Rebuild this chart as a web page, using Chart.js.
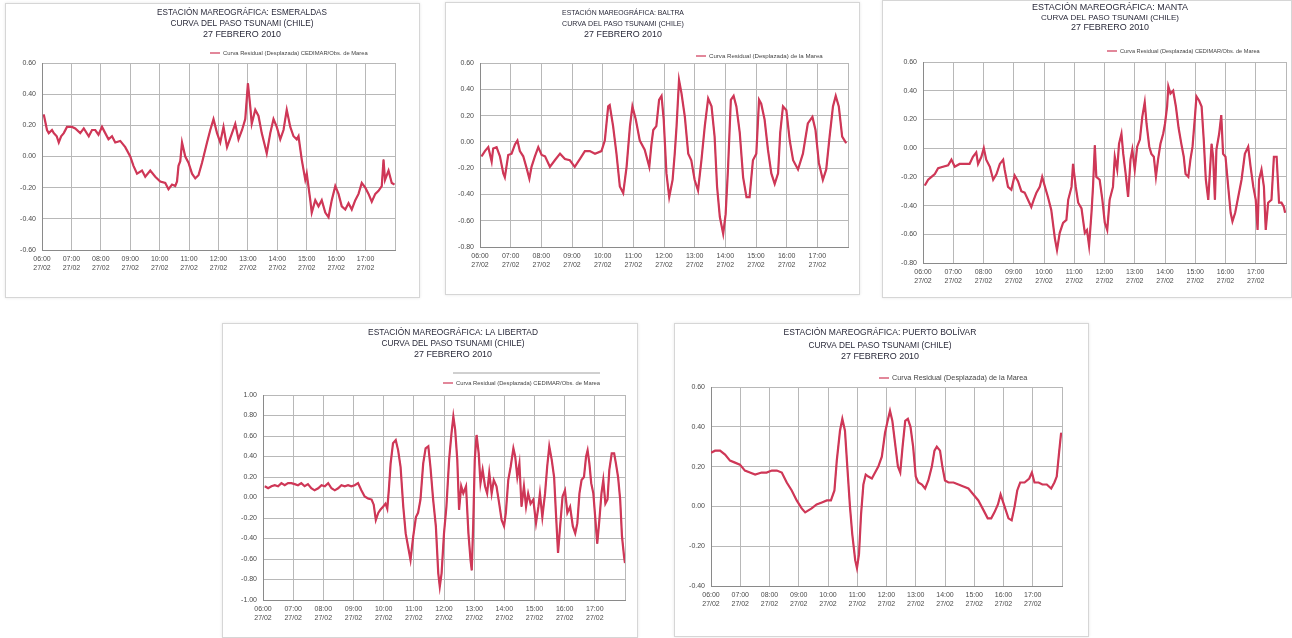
<!DOCTYPE html>
<html lang="es">
<head>
<meta charset="UTF-8">
<title>Curvas del paso del tsunami - 27 febrero 2010</title>
<script src="https://cdn.jsdelivr.net/npm/chart.js"></script>
<style>
  body { margin: 0; background: #fff; width: 1292px; height: 638px; position: relative; overflow: hidden; }
  .panel { position: absolute; background: #fff; border: 1px solid #d6d6d6; box-shadow: 0 0 3px rgba(0,0,0,0.10); box-sizing: border-box; }
  .panel canvas { display: block; }
</style>
</head>
<body>
<div class="panel" style="left:5px;top:3px;width:415px;height:295px"><canvas id="c1"></canvas></div>
<div class="panel" style="left:445px;top:2px;width:415px;height:293px"><canvas id="c2"></canvas></div>
<div class="panel" style="left:882px;top:0px;width:410px;height:298px"><canvas id="c3"></canvas></div>
<div class="panel" style="left:222px;top:323px;width:416px;height:315px"><canvas id="c4"></canvas></div>
<div class="panel" style="left:674px;top:323px;width:415px;height:314px"><canvas id="c5"></canvas></div>

<script>
// tick labels (hora local / fecha)
const hourTicks = ['06:00','07:00','08:00','09:00','10:00','11:00','12:00','13:00','14:00','15:00','16:00','17:00'];
const dateTick = '27/02';

// readings: [hours since 06:00, residual level in m]
const esmeraldas = [[0.06,0.27],[0.17,0.17],[0.23,0.15],[0.34,0.17],[0.40,0.15],[0.50,0.13],[0.57,0.09],[0.65,0.13],[0.74,0.15],[0.85,0.19],
  [1.02,0.19],[1.13,0.18],[1.30,0.15],[1.42,0.18],[1.59,0.13],[1.70,0.17],[1.81,0.17],[1.92,0.14],[2.04,0.19],[2.15,0.15],
  [2.26,0.11],[2.38,0.13],[2.49,0.09],[2.66,0.10],[2.83,0.06],[3.00,0.00],[3.11,-0.06],[3.23,-0.11],[3.40,-0.09],[3.51,-0.13],
  [3.68,-0.09],[3.85,-0.13],[4.02,-0.16],[4.19,-0.17],[4.30,-0.21],[4.42,-0.18],[4.53,-0.19],[4.59,-0.16],[4.64,-0.06],[4.70,-0.03],
  [4.76,0.09],[4.87,0.00],[4.98,-0.04],[5.10,-0.11],[5.21,-0.14],[5.32,-0.12],[5.44,-0.04],[5.61,0.09],[5.72,0.17],[5.83,0.24],
  [5.95,0.15],[6.06,0.09],[6.17,0.19],[6.29,0.06],[6.46,0.15],[6.57,0.21],[6.68,0.11],[6.80,0.17],[6.91,0.24],[7.00,0.47],
  [7.08,0.32],[7.13,0.21],[7.25,0.30],[7.36,0.26],[7.47,0.15],[7.59,0.06],[7.64,0.02],[7.76,0.15],[7.87,0.24],[7.98,0.19],
  [8.10,0.11],[8.21,0.17],[8.32,0.30],[8.44,0.19],[8.55,0.13],[8.66,0.11],[8.72,0.13],[8.83,-0.02],[8.95,-0.15],[9.00,-0.11],
  [9.12,-0.28],[9.17,-0.36],[9.29,-0.28],[9.40,-0.32],[9.51,-0.28],[9.63,-0.36],[9.74,-0.39],[9.85,-0.28],[9.97,-0.19],[10.08,-0.24],
  [10.19,-0.32],[10.31,-0.34],[10.42,-0.30],[10.53,-0.34],[10.65,-0.28],[10.76,-0.24],[10.87,-0.17],[10.99,-0.20],[11.10,-0.24],[11.21,-0.29],
  [11.33,-0.24],[11.44,-0.22],[11.55,-0.19],[11.61,-0.02],[11.66,-0.15],[11.78,-0.09],[11.89,-0.17],[11.98,-0.18]];

const baltra = [[0.05,-0.11],[0.16,-0.07],[0.27,-0.04],[0.38,-0.15],[0.43,-0.05],[0.54,-0.04],[0.65,-0.11],[0.76,-0.24],[0.81,-0.27],[0.92,-0.10],
  [1.03,-0.09],[1.14,-0.02],[1.22,0.01],[1.30,-0.07],[1.41,-0.11],[1.52,-0.20],[1.61,-0.28],[1.68,-0.19],[1.79,-0.11],[1.90,-0.04],
  [2.01,-0.10],[2.12,-0.11],[2.28,-0.19],[2.44,-0.14],[2.61,-0.09],[2.77,-0.13],[2.93,-0.14],[3.09,-0.19],[3.26,-0.13],[3.42,-0.07],
  [3.58,-0.07],[3.75,-0.09],[3.96,-0.07],[4.07,0.01],[4.18,0.27],[4.23,0.28],[4.34,0.12],[4.45,-0.09],[4.56,-0.34],[4.67,-0.39],
  [4.78,-0.19],[4.89,0.12],[4.97,0.27],[5.08,0.17],[5.21,0.01],[5.37,-0.06],[5.52,-0.19],[5.59,-0.02],[5.65,0.09],[5.75,0.12],
  [5.84,0.32],[5.92,0.35],[5.99,0.17],[6.08,-0.24],[6.17,-0.42],[6.28,-0.29],[6.35,-0.09],[6.41,0.12],[6.49,0.47],[6.57,0.37],
  [6.68,0.19],[6.79,-0.09],[6.89,-0.14],[7.00,-0.29],[7.11,-0.37],[7.22,-0.14],[7.33,0.12],[7.44,0.33],[7.55,0.27],[7.65,0.04],
  [7.73,-0.34],[7.82,-0.57],[7.93,-0.70],[8.01,-0.55],[8.09,-0.19],[8.18,0.32],[8.27,0.35],[8.36,0.27],[8.47,0.07],[8.58,-0.27],
  [8.69,-0.42],[8.79,-0.42],[8.90,-0.14],[9.01,-0.09],[9.10,0.32],[9.17,0.29],[9.28,0.17],[9.39,-0.06],[9.50,-0.24],[9.61,-0.32],
  [9.72,-0.24],[9.79,0.07],[9.88,0.27],[9.99,0.24],[10.10,0.01],[10.21,-0.14],[10.37,-0.21],[10.53,-0.09],[10.69,0.14],[10.84,0.19],
  [10.94,0.09],[11.05,-0.16],[11.18,-0.29],[11.29,-0.21],[11.40,0.04],[11.51,0.27],[11.60,0.35],[11.70,0.27],[11.81,0.04],[11.94,-0.01]];

const manta = [[0.06,-0.26],[0.17,-0.22],[0.28,-0.20],[0.39,-0.18],[0.50,-0.14],[0.66,-0.13],[0.83,-0.12],[0.94,-0.08],[1.05,-0.13],[1.21,-0.11],
  [1.38,-0.11],[1.54,-0.11],[1.65,-0.06],[1.76,-0.03],[1.82,-0.11],[1.93,-0.06],[2.01,0.00],[2.09,-0.08],[2.21,-0.13],[2.32,-0.22],
  [2.43,-0.18],[2.54,-0.11],[2.65,-0.08],[2.70,-0.15],[2.81,-0.27],[2.92,-0.29],[3.03,-0.19],[3.14,-0.23],[3.25,-0.30],[3.36,-0.31],
  [3.47,-0.36],[3.58,-0.41],[3.66,-0.36],[3.75,-0.31],[3.86,-0.27],[3.94,-0.20],[4.02,-0.26],[4.13,-0.34],[4.24,-0.43],[4.36,-0.63],
  [4.43,-0.71],[4.52,-0.59],[4.63,-0.52],[4.74,-0.50],[4.80,-0.36],[4.91,-0.27],[4.96,-0.11],[5.05,-0.27],[5.13,-0.38],[5.24,-0.42],
  [5.35,-0.59],[5.42,-0.57],[5.49,-0.68],[5.57,-0.45],[5.62,-0.27],[5.68,0.02],[5.73,-0.20],[5.84,-0.22],[5.93,-0.36],[6.01,-0.52],
  [6.09,-0.57],[6.17,-0.36],[6.28,-0.27],[6.34,-0.06],[6.42,-0.15],[6.48,0.03],[6.56,0.10],[6.62,-0.04],[6.70,-0.18],[6.78,-0.34],
  [6.86,-0.08],[6.92,-0.01],[7.00,-0.15],[7.08,0.01],[7.17,0.06],[7.25,0.22],[7.33,0.32],[7.39,0.17],[7.48,0.01],[7.55,-0.04],
  [7.63,-0.06],[7.70,-0.20],[7.77,-0.08],[7.85,0.03],[7.94,0.10],[8.00,0.17],[8.07,0.29],[8.11,0.43],[8.18,0.38],[8.27,0.40],
  [8.36,0.29],[8.45,0.14],[8.54,0.03],[8.62,-0.06],[8.68,-0.18],[8.77,-0.20],[8.84,-0.08],[8.91,0.01],[8.99,0.22],[9.04,0.36],
  [9.13,0.33],[9.21,0.29],[9.28,0.06],[9.35,-0.22],[9.43,-0.36],[9.48,-0.18],[9.54,0.03],[9.59,-0.06],[9.65,-0.36],[9.70,-0.01],
  [9.79,0.10],[9.86,0.23],[9.92,-0.04],[10.00,-0.06],[10.09,-0.27],[10.17,-0.45],[10.23,-0.51],[10.32,-0.45],[10.42,-0.34],[10.53,-0.22],
  [10.64,-0.04],[10.75,0.01],[10.83,-0.13],[10.92,-0.27],[11.00,-0.36],[11.06,-0.57],[11.11,-0.22],[11.19,-0.15],[11.27,-0.27],[11.33,-0.57],
  [11.41,-0.38],[11.52,-0.36],[11.60,-0.06],[11.69,-0.06],[11.77,-0.38],[11.85,-0.38],[11.93,-0.41],[11.97,-0.45]];

const laLibertad = [[0.06,0.11],[0.17,0.09],[0.28,0.11],[0.39,0.12],[0.50,0.11],[0.61,0.14],[0.72,0.12],[0.83,0.14],[0.94,0.14],[1.05,0.13],
  [1.16,0.12],[1.27,0.14],[1.38,0.11],[1.49,0.13],[1.60,0.09],[1.71,0.07],[1.83,0.09],[1.94,0.12],[2.05,0.11],[2.16,0.14],
  [2.27,0.09],[2.38,0.07],[2.49,0.09],[2.60,0.12],[2.71,0.11],[2.82,0.12],[2.93,0.11],[3.04,0.12],[3.15,0.14],[3.26,0.07],
  [3.37,0.01],[3.48,-0.01],[3.60,-0.02],[3.67,-0.07],[3.74,-0.22],[3.82,-0.15],[3.89,-0.12],[3.98,-0.09],[4.06,-0.06],[4.12,-0.11],
  [4.17,0.07],[4.23,0.33],[4.31,0.53],[4.40,0.56],[4.48,0.46],[4.56,0.30],[4.65,-0.09],[4.73,-0.35],[4.81,-0.48],[4.89,-0.61],
  [4.98,-0.38],[5.07,-0.19],[5.14,-0.15],[5.22,-0.02],[5.31,0.33],[5.39,0.48],[5.48,0.50],[5.55,0.30],[5.64,-0.02],[5.73,-0.28],
  [5.81,-0.74],[5.86,-0.87],[5.92,-0.74],[6.00,-0.35],[6.08,-0.09],[6.17,0.37],[6.25,0.63],[6.31,0.79],[6.37,0.66],[6.44,0.37],
  [6.50,-0.12],[6.57,0.11],[6.64,0.04],[6.73,0.11],[6.81,-0.35],[6.88,-0.61],[6.92,-0.71],[6.97,-0.25],[7.02,0.37],[7.08,0.61],
  [7.15,0.43],[7.21,0.14],[7.28,0.27],[7.36,0.11],[7.43,0.04],[7.50,0.24],[7.58,0.04],[7.65,0.17],[7.74,0.11],[7.83,-0.06],
  [7.91,-0.22],[7.99,-0.28],[8.05,-0.15],[8.13,0.17],[8.21,0.30],[8.30,0.48],[8.36,0.40],[8.43,0.20],[8.50,0.33],[8.57,-0.09],
  [8.65,0.11],[8.72,-0.09],[8.79,0.04],[8.87,-0.06],[8.96,-0.02],[9.05,-0.25],[9.13,-0.09],[9.18,0.04],[9.26,-0.19],[9.35,0.04],
  [9.42,0.30],[9.49,0.50],[9.57,0.37],[9.65,0.20],[9.71,-0.15],[9.78,-0.54],[9.85,-0.28],[9.93,0.01],[10.01,0.07],[10.09,-0.15],
  [10.18,-0.09],[10.27,-0.28],[10.35,-0.35],[10.42,-0.25],[10.49,0.04],[10.56,0.17],[10.64,0.20],[10.71,0.40],[10.76,0.46],[10.82,0.33],
  [10.88,0.14],[10.95,0.04],[11.02,-0.22],[11.08,-0.45],[11.15,-0.22],[11.22,0.04],[11.28,0.17],[11.35,-0.06],[11.42,-0.02],[11.48,0.27],
  [11.56,0.43],[11.64,0.43],[11.70,0.33],[11.77,0.20],[11.84,-0.02],[11.90,-0.38],[11.97,-0.58],[12.00,-0.64]];

const puertoBolivar = [[0.00,0.27],[0.14,0.28],[0.31,0.28],[0.48,0.26],[0.65,0.23],[0.82,0.22],[0.99,0.21],[1.16,0.18],[1.33,0.17],[1.51,0.16],
  [1.73,0.17],[1.90,0.17],[2.08,0.18],[2.25,0.18],[2.42,0.17],[2.59,0.12],[2.76,0.08],[2.93,0.03],[3.10,-0.01],[3.22,-0.03],
  [3.33,-0.02],[3.44,-0.01],[3.61,0.01],[3.79,0.02],[3.96,0.03],[4.10,0.03],[4.22,0.08],[4.30,0.23],[4.41,0.38],[4.49,0.44],
  [4.58,0.38],[4.66,0.20],[4.75,0.00],[4.83,-0.14],[4.93,-0.27],[4.99,-0.31],[5.06,-0.24],[5.13,-0.04],[5.21,0.11],[5.29,0.16],
  [5.38,0.15],[5.50,0.14],[5.61,0.17],[5.72,0.20],[5.84,0.25],[5.95,0.37],[6.04,0.43],[6.12,0.48],[6.20,0.43],[6.29,0.32],
  [6.39,0.20],[6.47,0.17],[6.55,0.30],[6.64,0.43],[6.73,0.44],[6.82,0.40],[6.91,0.30],[7.00,0.15],[7.09,0.12],[7.21,0.11],
  [7.32,0.09],[7.43,0.13],[7.55,0.20],[7.64,0.28],[7.72,0.30],[7.83,0.28],[7.91,0.20],[8.00,0.13],[8.12,0.12],[8.29,0.12],
  [8.46,0.11],[8.63,0.10],[8.80,0.09],[8.97,0.06],[9.14,0.03],[9.32,-0.02],[9.46,-0.06],[9.58,-0.06],[9.69,-0.03],[9.81,0.01],
  [9.90,0.06],[9.99,0.02],[10.08,-0.02],[10.17,-0.06],[10.28,-0.07],[10.38,0.00],[10.47,0.08],[10.57,0.12],[10.72,0.12],[10.88,0.14],
  [10.97,0.17],[11.06,0.12],[11.20,0.12],[11.33,0.11],[11.48,0.11],[11.63,0.09],[11.74,0.12],[11.82,0.15],[11.90,0.27],[11.97,0.37]];

const RED = '#cf3757';
const DARK = 'rgba(60,20,35,0.7)';
const FONT = '"Liberation Sans", Arial, sans-serif';

// titles and legend text for each panel (layout in px inside the canvas)
const captions = {
  c1: { title: ['ESTACIÓN MAREOGRÁFICA: ESMERALDAS', 'CURVA DEL PASO TSUNAMI (CHILE)', '27 FEBRERO 2010'],
        widths: [170, 143, 87], cx: 236, ty: [9, 20, 31], legend: 'Curva Residual (Desplazada) CEDIMAR/Obs. de Marea', lx: 204, lw: 158, ly: 49 },
  c2: { title: ['ESTACIÓN MAREOGRÁFICA: BALTRA', 'CURVA DEL PASO TSUNAMI (CHILE)', '27 FEBRERO 2010'],
        widths: [122, 122, 78], cx: 177, ty: [10, 21, 32], legend: 'Curva Residual (Desplazada) de la Marea', lx: 250, lw: 127, ly: 53 },
  c3: { title: ['ESTACIÓN MAREOGRÁFICA: MANTA', 'CURVA DEL PASO TSUNAMI (CHILE)', '27 FEBRERO 2010'],
        widths: [163, 138, 82], cx: 227, ty: [7, 17, 27], legend: 'Curva Residual (Desplazada) CEDIMAR/Obs. de Marea', lx: 224, lw: 153, ly: 50 },
  c4: { title: ['ESTACIÓN MAREOGRÁFICA: LA LIBERTAD', 'CURVA DEL PASO TSUNAMI (CHILE)', '27 FEBRERO 2010'],
        widths: [170, 143, 88], cx: 230, ty: [9, 20, 31], legend: 'Curva Residual (Desplazada) CEDIMAR/Obs. de Marea', lx: 220, lw: 157, ly: 59, rule: true },
  c5: { title: ['ESTACIÓN MAREOGRÁFICA: PUERTO BOLÍVAR', 'CURVA DEL PASO TSUNAMI (CHILE)', '27 FEBRERO 2010'],
        widths: [193, 143, 88], cx: 205, ty: [9, 22, 33], legend: 'Curva Residual (Desplazada) de la Marea', lx: 204, lw: 156, ly: 54 }
};

// squeeze a text line into the width it takes in the scanned sheet
function fitText(ctx, text, x, y, width, size) {
  ctx.font = size + 'px ' + FONT;
  const w = ctx.measureText(text).width;
  const s = Math.min(size * 1.12, size * width / w);
  ctx.font = s.toFixed(2) + 'px ' + FONT;
  ctx.fillText(text, x, y);
}

const captionPlugin = {
  id: 'caption',
  afterDraw(chart) {
    const cap = captions[chart.canvas.id];
    const ctx = chart.ctx;
    ctx.save();
    ctx.fillStyle = '#2a2a3a';
    ctx.textAlign = 'center';
    ctx.textBaseline = 'middle';
    cap.title.forEach((line, i) => fitText(ctx, line, cap.cx, cap.ty[i], cap.widths[i], 8));
    ctx.textAlign = 'left';
    ctx.fillStyle = '#444';
    ctx.strokeStyle = RED;
    ctx.lineWidth = 1.2;
    ctx.beginPath();
    ctx.moveTo(cap.lx, cap.ly);
    ctx.lineTo(cap.lx + 10, cap.ly);
    ctx.stroke();
    fitText(ctx, cap.legend, cap.lx + 13, cap.ly, cap.lw - 13, 6.5);
    if (cap.rule) {
      ctx.strokeStyle = '#888';
      ctx.lineWidth = 0.8;
      ctx.beginPath();
      ctx.moveTo(cap.lx + 10, cap.ly - 10);
      ctx.lineTo(cap.lx + cap.lw, cap.ly - 10);
      ctx.stroke();
    }
    ctx.restore();
  }
};

function makeChart(id, readings, yMin, yMax, box) {
  const pts = readings.map(r => ({ x: r[0], y: r[1] }));
  new Chart(document.getElementById(id), {
    type: 'line',
    data: {
      datasets: [
        { data: pts, borderColor: RED, borderWidth: 2.2, pointRadius: 0, tension: 0 },
        { data: pts, borderColor: DARK, borderWidth: 0.9, pointRadius: 0, tension: 0 }
      ]
    },
    options: {
      responsive: true,
      maintainAspectRatio: false,
      animation: false,
      layout: { padding: { left: 0, top: box.top, right: box.right, bottom: 0 } },
      plugins: { legend: { display: false }, tooltip: { enabled: false } },
      scales: {
        x: {
          type: 'linear',
          min: 0,
          max: 12,
          afterFit(scale) { scale.height = box.xh; },
          grid: { color: '#b8b8b8', lineWidth: 1, drawTicks: false },
          border: { color: '#8a8a8a' },
          ticks: {
            stepSize: 1,
            autoSkip: false,
            maxRotation: 0,
            padding: 5,
            color: '#4a4a4a',
            font: { family: FONT, size: 7 },
            callback: v => (v < hourTicks.length ? [hourTicks[v], dateTick] : '')
          }
        },
        y: {
          min: yMin,
          max: yMax,
          afterFit(scale) { scale.width = box.yw; },
          grid: { color: '#b8b8b8', lineWidth: 1, drawTicks: false },
          border: { color: '#8a8a8a' },
          ticks: {
            stepSize: 0.2,
            padding: 6,
            color: '#4a4a4a',
            font: { family: FONT, size: 7 },
            callback: v => (Math.abs(v) < 1e-9 ? 0 : v).toFixed(2)
          }
        }
      }
    },
    plugins: [captionPlugin]
  });
}

makeChart('c1', esmeraldas, -0.6, 0.6, { yw: 36, top: 59, right: 24, xh: 47 });
makeChart('c2', baltra, -0.8, 0.6, { yw: 34, top: 60, right: 11, xh: 47 });
makeChart('c3', manta, -0.8, 0.6, { yw: 40, top: 61, right: 5, xh: 34 });
makeChart('c4', laLibertad, -1.0, 1.0, { yw: 40, top: 71, right: 12, xh: 37 });
makeChart('c5', puertoBolivar, -0.4, 0.6, { yw: 36, top: 63, right: 26, xh: 50 });
</script>
</body>
</html>
